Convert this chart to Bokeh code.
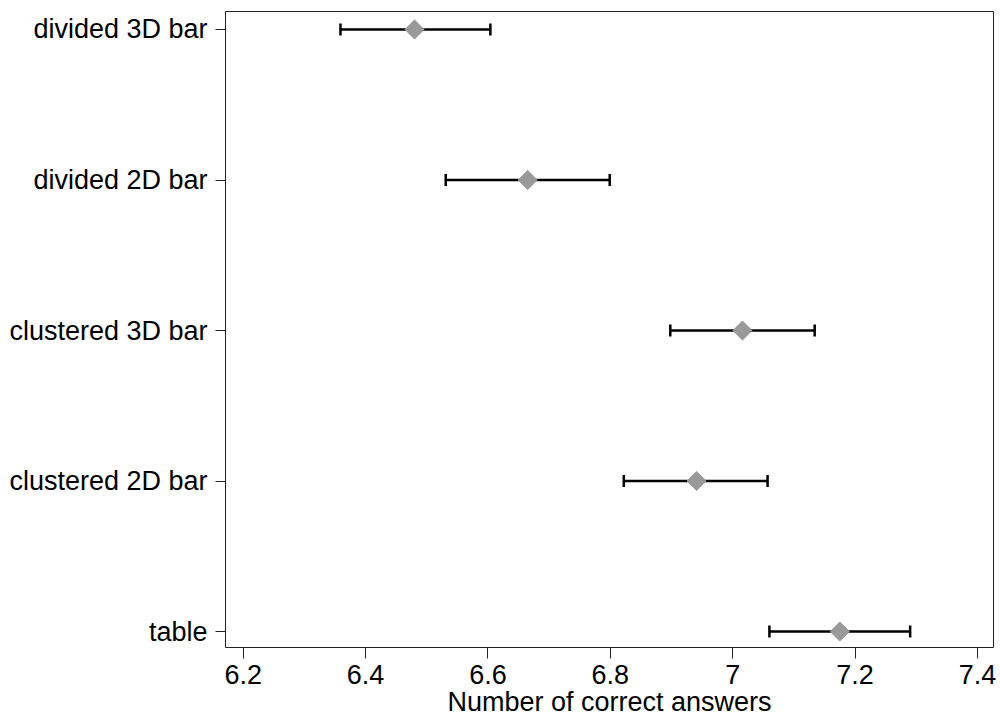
from bokeh.plotting import figure
from bokeh.models import ColumnDataSource, Range1d, FixedTicker, Whisker, TeeHead
from bokeh.embed import file_html
from bokeh.resources import INLINE

# ---- data ----
categories = ["table", "clustered 2D bar", "clustered 3D bar", "divided 2D bar", "divided 3D bar"]
means = [7.175, 6.941, 7.016, 6.665, 6.480]
lower = [7.060, 6.822, 6.898, 6.531, 6.359]
upper = [7.290, 7.057, 7.134, 6.799, 6.604]
x_ticks = [6.2, 6.4, 6.6, 6.8, 7.0, 7.2, 7.4]
x_tick_labels = ["6.2", "6.4", "6.6", "6.8", "7", "7.2", "7.4"]
x_title = "Number of correct answers"

ypos = [i + 1 for i in range(len(categories))]
src = ColumnDataSource(dict(y=ypos, mean=means, lo=lower, hi=upper))

FONT = "Liberation Sans"
FS = "27px"

p = figure(width=1000, height=720, output_backend="svg", toolbar_location=None,
           x_range=Range1d(6.1711, 7.4262), y_range=Range1d(0.8937, 5.1196),
           min_border_left=225, min_border_right=7, min_border_top=11, min_border_bottom=73)
p.background_fill_color = "white"
p.border_fill_color = "white"
p.outline_line_color = "#222222"
p.outline_line_width = 1
p.xgrid.visible = False
p.ygrid.visible = False

# error bars
wh = Whisker(source=src, base="y", lower="lo", upper="hi", dimension="width",
             line_color="black", line_width=2.5,
             lower_head=TeeHead(size=12, line_width=2.5, line_color="black"),
             upper_head=TeeHead(size=12, line_width=2.5, line_color="black"))
p.add_layout(wh)

# mean markers (diamonds)
p.scatter(x="mean", y="y", source=src, marker="square", angle=0.785398, size=13.5,
          fill_color="#999999", line_color="#999999")

# x axis
xa = p.xaxis[0]
xa.ticker = FixedTicker(ticks=x_ticks)
xa.major_label_overrides = {t: l for t, l in zip(x_ticks, x_tick_labels)}
xa.minor_tick_line_color = None
xa.major_tick_out = 11
xa.major_tick_in = 0
xa.major_tick_line_color = "#222222"
xa.major_tick_line_width = 1
xa.axis_line_color = None
xa.major_label_standoff = 6
xa.major_label_text_font = FONT
xa.major_label_text_font_size = FS
xa.major_label_text_color = "black"
xa.axis_label = x_title
xa.axis_label_text_font = FONT
xa.axis_label_text_font_size = FS
xa.axis_label_text_font_style = "normal"
xa.axis_label_text_color = "black"
xa.axis_label_standoff = 0

# y axis
ya = p.yaxis[0]
ya.ticker = FixedTicker(ticks=ypos)
ya.major_label_overrides = {y: c for y, c in zip(ypos, categories)}
ya.minor_tick_line_color = None
ya.major_tick_out = 10
ya.major_tick_in = 0
ya.major_tick_line_color = "#222222"
ya.major_tick_line_width = 1
ya.axis_line_color = None
ya.major_label_standoff = 8
ya.major_label_orientation = "horizontal"
ya.major_label_text_font = FONT
ya.major_label_text_font_size = FS
ya.major_label_text_color = "black"

open("out.html", "w").write(file_html(p, INLINE))
